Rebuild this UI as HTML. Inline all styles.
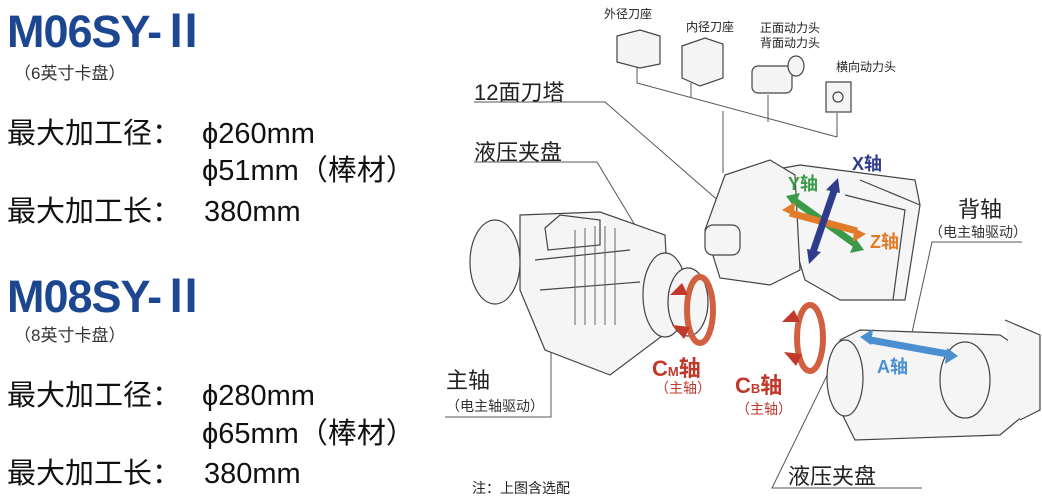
<!DOCTYPE html>
<html><head><meta charset="utf-8"><style>
html,body{margin:0;padding:0;background:#fff;}
body{width:1042px;height:498px;position:relative;overflow:hidden;font-family:"Liberation Sans","Noto Sans CJK SC",sans-serif;}
.t{position:absolute;white-space:nowrap;color:#111;line-height:1;}
.h{font-weight:bold;color:#1d4690;font-size:45px;letter-spacing:-1px;}
.s{font-size:17px;color:#333;}
.b{font-size:29px;}
</style></head><body>
<div class="t h" style="left:7px;top:9px;">M06SY-Ⅱ</div>
<div class="t s" style="left:14px;top:65px;">（6英寸卡盘）</div>
<div class="t b" style="left:7px;top:120px;">最大加工径：</div>
<div class="t b" style="left:202px;top:120px;">ϕ260mm</div>
<div class="t b" style="left:202px;top:157px;">ϕ51mm（棒材）</div>
<div class="t b" style="left:7px;top:198px;">最大加工长：</div>
<div class="t b" style="left:204px;top:198px;">380mm</div>
<div class="t h" style="left:7px;top:274px;">M08SY-Ⅱ</div>
<div class="t s" style="left:14px;top:327px;">（8英寸卡盘）</div>
<div class="t b" style="left:7px;top:382px;">最大加工径：</div>
<div class="t b" style="left:202px;top:382px;">ϕ280mm</div>
<div class="t b" style="left:202px;top:420px;">ϕ65mm（棒材）</div>
<div class="t b" style="left:7px;top:460px;">最大加工长：</div>
<div class="t b" style="left:204px;top:460px;">380mm</div>

<svg width="1042" height="498" style="position:absolute;left:0;top:0" font-family="Liberation Sans,Noto Sans CJK SC,sans-serif">
<g fill="none" stroke="#555" stroke-width="1">
<polyline points="474,102 605,102 721,203"/>
<polyline points="474,162 597,162 674,290"/>
<polyline points="637,67 637,83 837,137"/>
<line x1="691" y1="83" x2="691" y2="97"/>
<line x1="768" y1="95" x2="768" y2="122"/>
<line x1="837" y1="113" x2="837" y2="137"/>
<line x1="723" y1="111" x2="723" y2="173"/>
<polyline points="551,250 551,417 445,417"/>
<polyline points="1022,242 932,242 911,337"/>
<polyline points="836,357 772,488 922,488"/>
</g>
<g fill="#f4f4f4" stroke="#444" stroke-width="1.2">
<path d="M617,36 L640,30 L660,36 L660,64 L640,68 L617,62 Z"/>
<path d="M682,46 L705,38 L723,44 L723,78 L700,86 L682,78 Z"/>
<rect x="752" y="66" width="40" height="27" rx="6"/>
<ellipse cx="796" cy="66" rx="8" ry="10"/>
<rect x="826" y="82" width="25" height="30"/>
<circle cx="838" cy="97" r="5"/>
</g>
<g fill="#f5f5f5" stroke="#444" stroke-width="1.2">
<path d="M772,170 L800,165 L915,180 L920,205 L905,300 L840,300 L805,280 Z"/>
<path d="M860,180 L920,205 M845,195 L905,210 L893,300"/>
<path d="M725,175 L770,160 L795,175 L800,270 L770,285 L720,278 L705,230 Z"/>
<rect x="705" y="225" width="35" height="30" rx="8"/>
<path d="M520,215 L600,212 L665,235 L670,330 L610,375 L545,350 L520,290 Z"/>
<path d="M545,228 L560,215 L600,220 L600,245 L548,250 Z"/>
<ellipse cx="495" cy="262" rx="25" ry="42"/>
<path d="M535,260 L630,250 M540,290 L640,282"/>
<ellipse cx="665" cy="295" rx="22" ry="42"/>
<ellipse cx="688" cy="302" rx="20" ry="34"/>
<path d="M840,340 L860,330 L1000,335 L1030,355 L1030,410 L1000,435 L855,440 L840,410 Z"/>
<ellipse cx="845" cy="378" rx="18" ry="38"/>
<ellipse cx="965" cy="380" rx="25" ry="38"/>
<path d="M1005,320 L1040,335 L1040,410 L1020,420"/>
</g>
<g stroke="#666" stroke-width="1">
<line x1="575" y1="230" x2="575" y2="325"/><line x1="585" y1="228" x2="585" y2="325"/><line x1="595" y1="226" x2="595" y2="325"/><line x1="605" y1="226" x2="605" y2="325"/><line x1="615" y1="228" x2="615" y2="325"/>
</g>
<g fill="none" stroke-width="6">
<ellipse cx="700" cy="310" rx="13" ry="33" stroke="#d06040"/>
<ellipse cx="810" cy="338" rx="13" ry="33" stroke="#d06040"/>
</g>
<path d="M670,295 l12,-12 l6,12 Z M672,325 l12,14 l6,-12Z M782,322 l12,-12 l6,12Z M784,352 l12,14 l6,-12Z" fill="#c0392b"/>
<g stroke-width="7">
<line x1="795" y1="201" x2="855" y2="244" stroke="#3a9a4a"/>
<line x1="790" y1="213" x2="857" y2="231" stroke="#e07b2a"/>
<line x1="835" y1="188" x2="812" y2="255" stroke="#2f3c8c"/>
<line x1="870" y1="340" x2="948" y2="354" stroke="#4a90d0"/>
</g>
<path d="M786,196 l14,-3 l-6,14Z M864,250 l-14,3 l6,-14Z" fill="#3a9a4a"/>
<path d="M782,210 l13,-8 l-1,14Z M866,234 l-13,8 l1,-14Z" fill="#e07b2a"/>
<path d="M838,178 l-12,12 l14,3Z M809,264 l12,-12 l-14,-3Z" fill="#2f3c8c"/>
<path d="M860,337 l13,-8 l-2,16Z M958,356 l-13,8 l2,-16Z" fill="#4a90d0"/>
<g font-size="12" fill="#222">
<text x="604" y="18">外径刀座</text>
<text x="686" y="31">内径刀座</text>
<text x="760" y="32">正面动力头</text>
<text x="760" y="47">背面动力头</text>
<text x="836" y="71">横向动力头</text>
<text x="472" y="493" font-size="14">注：上图含选配</text>
</g>
<g font-size="22" fill="#222">
<text x="474" y="100">12面刀塔</text>
<text x="474" y="160">液压夹盘</text>
<text x="446" y="388">主轴</text>
<text x="958" y="217">背轴</text>
<text x="788" y="484">液压夹盘</text>
</g>
<g font-size="14" fill="#333">
<text x="446" y="411">（电主轴驱动）</text>
<text x="929" y="237">（电主轴驱动）</text>
</g>
<g font-weight="bold" font-size="18">
<text x="852" y="170" fill="#2f3c8c">X轴</text>
<text x="788" y="190" fill="#3a9a4a">Y轴</text>
<text x="870" y="248" fill="#e07b2a">Z轴</text>
<text x="877" y="373" fill="#4a90d0">A轴</text>
<text x="652" y="376" fill="#c0392b" font-size="22">C<tspan font-size="13">M</tspan>轴</text>
<text x="735" y="393" fill="#c0392b" font-size="22">C<tspan font-size="13">B</tspan>轴</text>
</g>
<g font-size="14" fill="#c0392b">
<text x="655" y="393">（主轴）</text>
<text x="736" y="414">（主轴）</text>
</g>
</svg>
</body></html>
